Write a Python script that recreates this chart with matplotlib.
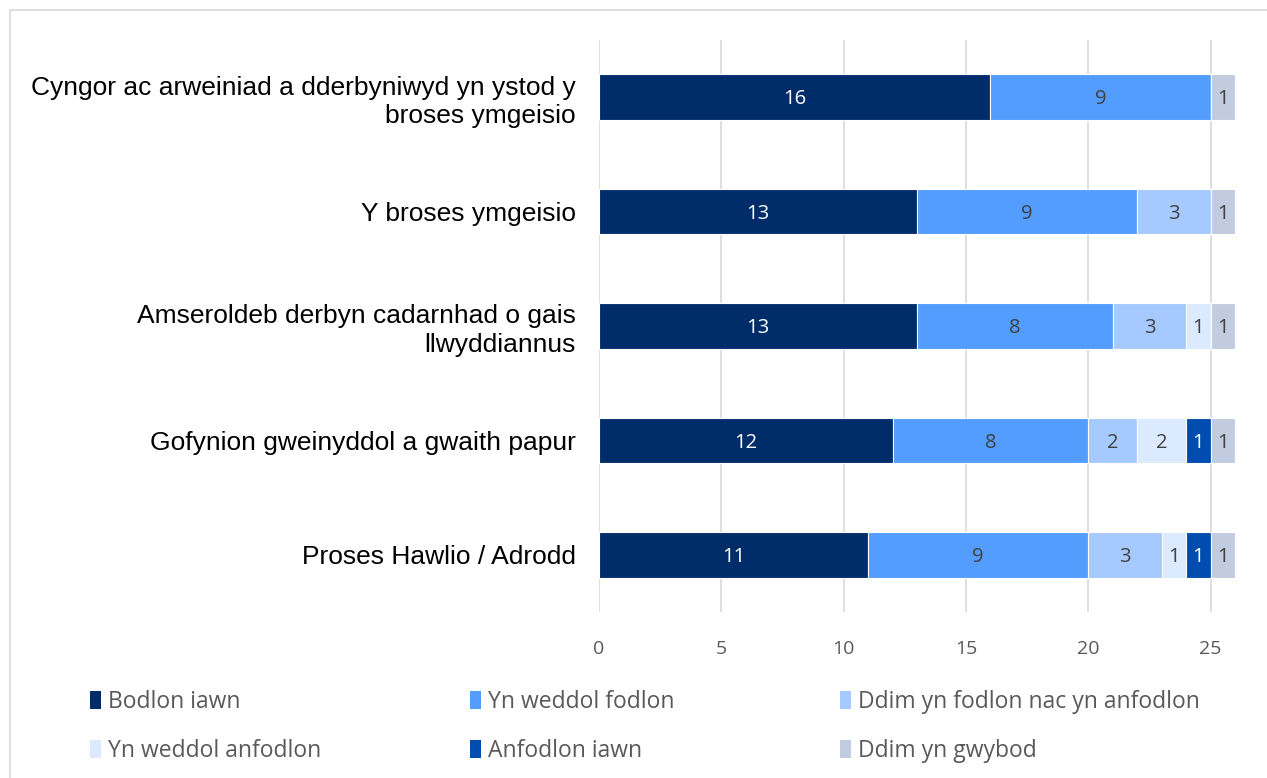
import matplotlib
matplotlib.use("Agg")
import matplotlib.pyplot as plt
from matplotlib.patches import Rectangle, Patch
import numpy as np

categories = [
    "Cyngor ac arweiniad a dderbyniwyd yn ystod y\nbroses ymgeisio",
    "Y broses ymgeisio",
    "Amseroldeb derbyn cadarnhad o gais\nllwyddiannus",
    "Gofynion gweinyddol a gwaith papur",
    "Proses Hawlio / Adrodd",
]
series_names = [
    "Bodlon iawn",
    "Yn weddol fodlon",
    "Ddim yn fodlon nac yn anfodlon",
    "Yn weddol anfodlon",
    "Anfodlon iawn",
    "Ddim yn gwybod",
]
bodlon_iawn = [16, 13, 13, 12, 11]
weddol_fodlon = [9, 9, 8, 8, 9]
ddim_fodlon_nac = [0, 3, 3, 2, 3]
weddol_anfodlon = [0, 0, 1, 2, 1]
anfodlon_iawn = [0, 0, 0, 1, 1]
ddim_gwybod = [1, 1, 1, 1, 1]
series = [bodlon_iawn, weddol_fodlon, ddim_fodlon_nac, weddol_anfodlon, anfodlon_iawn, ddim_gwybod]
x_ticks = [0, 5, 10, 15, 20, 25]

colors = ["#002D69", "#539DFF", "#A6CAFF", "#DCEAFF", "#004DAF", "#C2CCE0"]
label_colors = ["white", "#404040", "#404040", "#404040", "white", "#404040"]

fig = plt.figure(figsize=(12.67, 7.78), dpi=100)
W, H = 1267, 778
ax = fig.add_axes([599 / W, 1 - 612 / H, (1235 - 599) / W, (612 - 40) / H])

# outer frame
fig.patches.append(Rectangle((10 / W, -0.1), 1.2, (1 - 10 / H) + 0.1,
                             transform=fig.transFigure, fill=False, edgecolor="#D9D9D9", lw=1.2))

y = np.arange(len(categories))
left = np.zeros(len(categories))
for vals, name, col, lc in zip(series, series_names, colors, label_colors):
    v = np.array(vals, dtype=float)
    bars = ax.barh(y, v, left=left, height=0.4, color=col, edgecolor="white", linewidth=0.8, label=name, zorder=3)
    for b, val in zip(bars, v):
        if val > 0:
            ax.text(b.get_x() + b.get_width() / 2, b.get_y() + b.get_height() / 2 + 0.02, f"{int(val)}",
                    ha="center", va="center", color=lc, fontsize=14.5, family="Open Sans", zorder=4)
    left += v

ax.set_xlim(0, 26)
ax.set_ylim(4.5, -0.5)
ax.set_yticks(y)
ax.set_yticklabels(categories, fontsize=19, family="Liberation Sans", color="black", linespacing=1.25)
ax.set_xticks(x_ticks)
ax.set_xticklabels([str(t) for t in x_ticks], fontsize=14, family="Open Sans", color="#595959")
ax.tick_params(axis="y", length=0, pad=16.5)
ax.tick_params(axis="x", length=0, pad=20)
for s in ax.spines.values():
    s.set_visible(False)
ax.grid(axis="x", color="#D9D9D9", lw=1.2, zorder=0)
ax.set_axisbelow(True)

handles = [Patch(facecolor=c, edgecolor="none") for c in colors]
col_x = [90, 470, 840]
for i in range(3):
    idx = [i, i + 3]
    fig.legend([handles[j] for j in idx], [series_names[j] for j in idx],
               loc="upper left", bbox_to_anchor=(col_x[i] / W, 1 - 690 / H),
               frameon=False, ncol=1, handlelength=0.5, handleheight=0.8, handletextpad=0.3,
               labelspacing=1.08, borderaxespad=0, borderpad=0,
               prop={"family": "Open Sans", "size": 16.5}, labelcolor="#595959")

fig.savefig("out.png", dpi=100)
